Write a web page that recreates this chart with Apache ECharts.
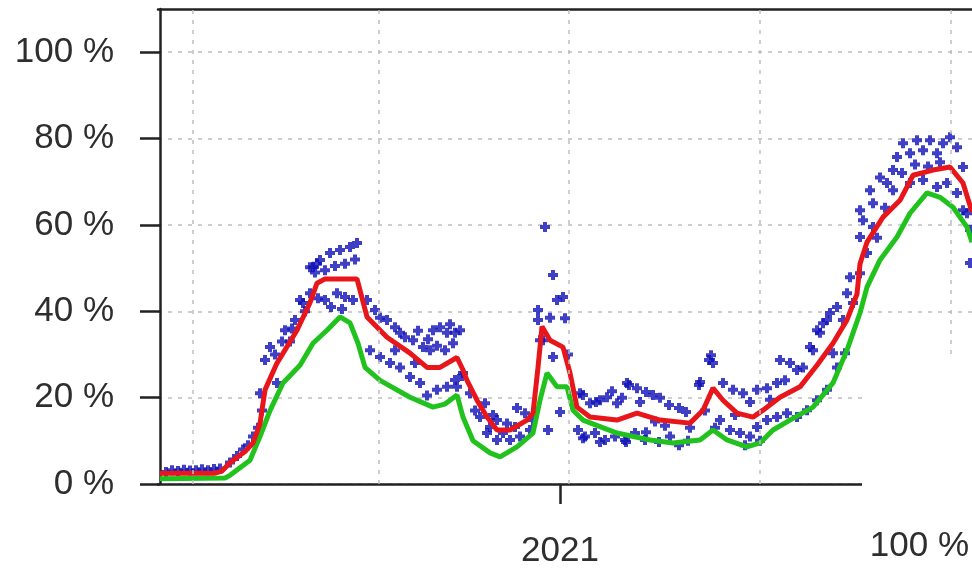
<!DOCTYPE html>
<html>
<head>
<meta charset="utf-8">
<script src="https://cdn.jsdelivr.net/npm/echarts@6/dist/echarts.min.js"></script>
<style>
html,body{margin:0;padding:0;background:#fff;}
#chart{width:972px;height:570px;}
</style>
</head>
<body>
<div id="chart"></div>
<script>
// x values are days (day 100 = 1 Jan 2021)
const yTicks = [0, 20, 40, 60, 80, 100];
const xTickDays = [100];
const xTickLabels = ['2021'];
const gridDays = [8.25, 54.75, 102.25, 150, 197.75];

const redDays = [0,13.75,15.5,17.5,21.25,23.25,25,26.25,29.25,34.25,37.5,39.25,41.25,49.25,51.75,56.75,62.5,66.75,70,74.25,75.75,76.75,79.25,81.75,84.25,87.5,91.75,93.25,94.5,95.5,97.5,100.75,102.5,104.25,107.5,114.25,119.25,125,132.5,135.75,138.25,140.75,144.25,148.25,150.75,155,160,164.25,168.25,171.75,174.25,175,176.75,180.75,185,188.25,193.25,197.5,200.75,203];
const redVals = [2.5,2.5,3,4.9,7.5,9.5,14,21.8,28,35.6,42,46.5,47.5,47.5,38.7,34,30.3,27,27,29.3,26.4,24,19.4,15.5,12.5,12.5,14.8,16.4,27,36.5,33.3,31.7,25.7,17.8,15.5,14.8,16.4,14.8,14.1,17.1,22.2,19.4,16.4,15.5,17.1,20.1,22.5,27.5,32.6,38,44,51,56,61.8,65.7,71.5,72.7,73.4,69.7,63];

const greenDays = [0,16.25,17.5,22.5,25,27.5,30.75,35,38.25,41.75,45,47.5,49.5,51.25,55,62.5,68.25,71.25,74.25,75.75,78.25,82.5,85,89.25,93.25,95,96.75,99.25,101.75,103.25,105.75,114.25,122.5,128.25,135,138.25,141.75,146.75,150,153.25,157.5,163.25,168.25,171.75,175,176.75,180,184.25,187.5,191.75,195,198.25,201.75,203];
const greenVals = [1.2,1.4,2,5.5,11,17,23.4,27.5,32.6,35.6,38.7,37.3,32.6,27,24,20.1,17.8,18.5,20.6,15.5,10,7.2,6.3,8.6,11.8,19.4,25.7,22.5,22.5,17.1,14.8,11.8,10.2,9.5,10.2,12.5,10.2,8.6,9.5,12.5,14.8,17.8,23.4,31,39.6,45.6,51.9,57.2,62.7,67.4,66.4,64.1,59.5,56];

const bluePoints = [
[1.5,2.8],[3,3.2],[4.5,3],[6,3.3],[7.5,3.1],[9,3.2],[10.5,3.4],[12,3.2],[13.5,3.5],[15,3.6],
[17.5,5],[19.25,6.5],[20.75,8],[22,9],[23.25,11],[24.5,13],[25.5,17],
[25,21],[26.25,28.7],[27.5,31.7],[31.25,35.6],[35,42.6],[38.25,50.2],[39.25,51],[29.25,23.4],[32.5,33],[36.25,40],[28.75,30],[30.5,33],[33.75,38],[33,36],
[37.5,50.2],[40,51.9],[42.5,53.5],[45,54.2],[47.5,54.9],[49.25,55.8],[38.75,49],[41.25,49.5],[43.75,50.5],[46.25,51],[48.75,52],[35.75,41.9],[37.5,44.2],[41.25,42.6],[44.25,44.2],[46.25,43.3],[48.25,42.6],[39.5,43],[42.75,41],[45.5,40.5],
[51.75,42.6],[53.75,40.3],[56.75,38],[58.75,36.3],[61.25,34],[63.25,33.3],[65.75,31.7],[68.25,35.6],[70,36.3],[71.75,35],[73.75,35],[75,35.6],[67,33.5],[64.5,35.5],[72.5,37],[69.25,32],[55,38.5],[60,35],
[52.5,31],[55,29.4],[57.5,28],[60,27],[62.5,24.8],[65,23.4],[69.25,21.8],[71.75,22.5],[73.75,24.1],[75.5,25],[58.75,31],[67.5,31],[71.25,31],[63.75,28],[66.75,20.5],
[73.25,32.6],[74.25,22.5],[75.75,25.7],[77.5,21],[80,15.5],[81.25,18.7],[82.5,13.2],[81.75,11.8],[84.25,14.8],[84.25,10.2],[85.75,11.8],[87.5,10.2],[88.75,13.2],[89.25,17.6],[91.25,16.4],[92.5,12.5],[93.25,14.8],[86.75,14],[90,11],[78.75,17],[83.25,16],
[94.5,40.3],[94.5,38],[95,33.3],[96.25,59.5],[98.25,48.4],[99.25,42.6],[100.75,43.3],[101.25,38.4],[98.25,29.4],[97,12.5],[100,16.7],[95.75,33.3],[97.5,38.5],[102,30],
[105,21],[105.75,20.6],[107.5,18.7],[109,19],[110,19.4],[111.75,20.1],[114.25,18.7],[116.75,23.4],[117.25,22.9],[119.25,22.2],[121.5,21.3],[123.25,20.6],[125,20],[127.25,18.3],[129.75,17.6],[131.5,16.7],[134.75,22.9],[137.25,28.7],[137.75,29.8],[113,21.5],[115.5,20],[120,19],
[104.5,12.5],[105.75,10.6],[106.25,11],[108.75,11.8],[110,9.7],[111.25,10.2],[113.75,11],[116.25,10.2],[116.5,9.7],[118.75,11.8],[121.25,10.2],[121.5,12],[124.75,9.7],[127.5,11],[129.75,9],[132.5,13],[126.25,13.5],[123.75,14.5],[132,10],
[135,23.6],[138.25,28],[140.75,23.4],[143.25,21.8],[145.75,21],[149.25,21.8],[151.75,22.2],[154.25,23.4],[155,28.7],[157.5,28],[159.25,26.4],[160.75,27],[162.5,31.7],[164.25,35.6],[165.75,37.2],[167.5,39.6],[169.25,41],[147.5,19],[152.5,19.5],[156.25,24],
[140,14.8],[142.5,12.5],[145,11.8],[147.5,11],[149.25,13.2],[151.75,14.8],[154.25,15.5],[156.75,16.4],[159.25,15.5],[161.75,17.1],[164.25,19.4],[166.75,21.8],[169.25,27],[171.25,30.3],[136.25,17],[138.75,13],[146.25,9],[150,10],[143.75,16],
[163.25,31],[165,35],[166.75,38],[168.25,30.3],[170.75,38],[171.75,44.2],[172.5,47.9],[173.25,41.9],[175,57.2],[175,63.4],[175,48.8],[175.75,61.1],[176.75,53.5],[177.5,68],[178.25,65],[178.25,59.5],[179.25,57],[180,71],[181.75,69.7],[183.25,72.7],[183.25,68],[184.25,75.7],[185.75,78.9],[187.5,76.6],[187.5,69.7],[189.25,79.6],[190.75,77.3],[190.75,70.4],[192.5,79.6],[194.25,76.6],[194.25,68.8],[195.75,78.9],[196.75,69.7],[197.5,80.3],[199.25,78],[199.25,67.4],[200.75,73.4],[200.75,63.4],[201.75,62.7],[202.5,58.8],[202.5,51.2],[185.5,72],[188.75,74],[192,73.5],[195,74.5],[181.25,64]
];

const FONT = '"Liberation Sans", Arial, sans-serif';
const TXT = '#2e2e2e';
const zip = (a, b) => a.map((v, i) => [v, b[i]]);

const chart = echarts.init(document.getElementById('chart'), null, {renderer: 'canvas'});
chart.setOption({
  animation: false,
  backgroundColor: '#ffffff',
  grid: {left: 158, top: 9, right: 0, bottom: 86, containLabel: false},
  xAxis: [{
    type: 'value', min: -0.5, max: 203, position: 'bottom',
    axisLine: {show: true, lineStyle: {color: '#222', width: 2.5}},
    axisTick: {show: true, customValues: xTickDays, length: 20, lineStyle: {color: '#222', width: 2.5}},
    axisLabel: {show: true, customValues: xTickDays, margin: 50,
      formatter: v => xTickLabels[xTickDays.indexOf(v)] || '',
      fontSize: 35, fontFamily: FONT, color: TXT},
    splitLine: {show: false}
  }, {
    type: 'value', min: -0.5, max: 203, position: 'top',
    axisLine: {show: true, lineStyle: {color: '#222', width: 2.5}},
    axisTick: {show: false}, axisLabel: {show: false}, splitLine: {show: false}
  }],
  yAxis: {
    type: 'value', min: 0, max: 110, interval: 20,
    axisLine: {show: true, lineStyle: {color: '#222', width: 2.5}},
    axisTick: {show: true, length: 20, lineStyle: {color: '#222', width: 2.5},
      customValues: yTicks},
    axisLabel: {margin: 44, fontSize: 35, fontFamily: FONT, color: TXT,
      customValues: yTicks, formatter: v => v + ' %'},
    splitLine: {show: true, lineStyle: {color: '#bdbdbd', width: 1.5, type: [4, 6]}}
  },
  series: [{
    type: 'line', data: [], z: 1, silent: true,
    markLine: {
      silent: true, symbol: 'none', label: {show: false},
      lineStyle: {color: '#bdbdbd', width: 1.5, type: [4, 6]},
      data: gridDays.map(d => ({xAxis: d}))
    }
  }, {
    name: 'daily', type: 'scatter', data: bluePoints, z: 2,
    symbol: 'path://M3,0H7V3H10V7H7V10H3V7H0V3H3Z', symbolSize: 10,
    itemStyle: {color: '#1010b8'}
  }, {
    name: 'lower', type: 'line', data: zip(greenDays, greenVals), z: 3,
    showSymbol: false, lineStyle: {color: '#22c21e', width: 5}
  }, {
    name: 'mean', type: 'line', data: zip(redDays, redVals), z: 4,
    showSymbol: false, lineStyle: {color: '#e8161a', width: 5}
  }],
  graphic: [{
    type: 'rect', left: 862, top: 360, z: 100,
    shape: {width: 110, height: 210}, style: {fill: '#ffffff'}
  }, {
    type: 'text', x: 969, y: 546, z: 101,
    style: {text: '100 %', align: 'right', verticalAlign: 'middle',
      font: '35px ' + FONT, fill: TXT}
  }]
});
</script>
</body>
</html>
